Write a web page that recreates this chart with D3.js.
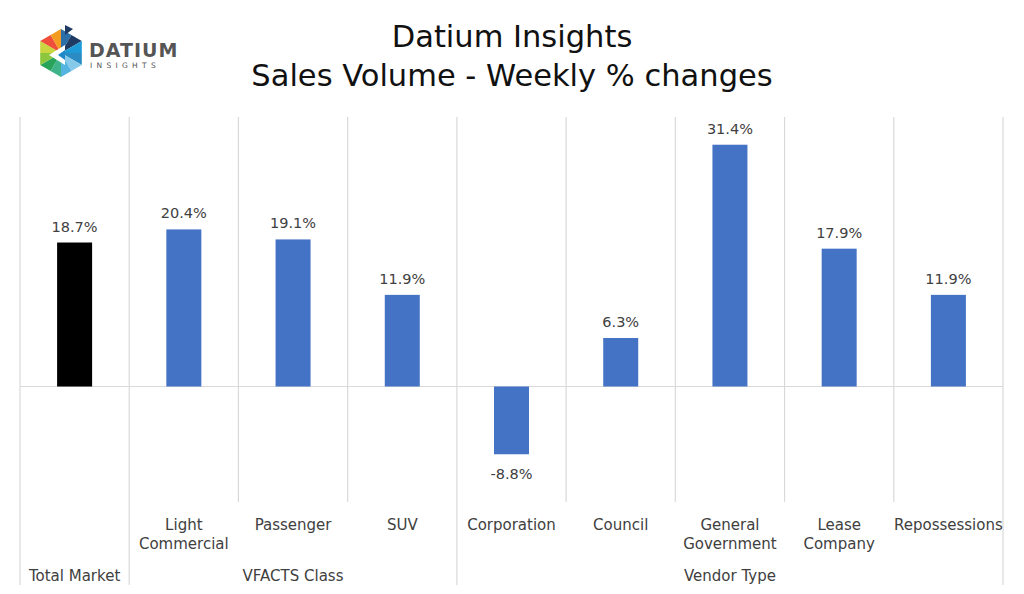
<!DOCTYPE html>
<html><head><meta charset="utf-8">
<script src="https://cdn.jsdelivr.net/npm/d3@7"></script>
<style>body{margin:0;background:#fff}svg{display:block}text{font-family:"DejaVu Sans",sans-serif}</style>
</head><body><svg id="c" width="1024" height="594"></svg>
<script>
const categories = ["Total Market","Light Commercial","Passenger","SUV","Corporation","Council","General Government","Lease Company","Repossessions"];
const categoryLines = [[""],["Light","Commercial"],["Passenger"],["SUV"],["Corporation"],["Council"],["General","Government"],["Lease","Company"],["Repossessions"]];
const values = [18.7,20.4,19.1,11.9,-8.8,6.3,31.4,17.9,11.9];
const groups = ["Total Market","VFACTS Class","Vendor Type"];
const groupSizes = [1,3,5];
const titleLines = ["Datium Insights","Sales Volume - Weekly % changes"];

const svg = d3.select("#c");
const x = d3.scaleBand().domain(categories).range([20,1003]).padding(0);
const y = d3.scaleLinear().domain([-15,35]).range([502,117]);
const bw = 35;
const grid = "#d9d9d9";

// title
svg.selectAll("text.title").data(titleLines).join("text")
  .attr("x",512).attr("y",(d,i)=>47+i*39).attr("text-anchor","middle")
  .attr("font-size",30.5).attr("fill","#111").text(d=>d);

// vertical separators
const groupStarts = [0]; groupSizes.forEach((s,i)=>groupStarts.push(groupStarts[i]+s));
const bounds = d3.range(categories.length+1);
svg.selectAll("line.v").data(bounds).join("line")
  .attr("x1",i=>20+i*x.bandwidth()).attr("x2",i=>20+i*x.bandwidth())
  .attr("y1",117).attr("y2",i=>groupStarts.includes(i)?585:502)
  .attr("stroke",grid).attr("stroke-width",1.2);
// zero line
svg.append("line").attr("x1",20).attr("x2",1003).attr("y1",y(0)).attr("y2",y(0))
  .attr("stroke",grid).attr("stroke-width",1.2);

// bars
svg.selectAll("rect.bar").data(values).join("rect")
  .attr("x",(d,i)=>x(categories[i])+x.bandwidth()/2-bw/2)
  .attr("width",bw)
  .attr("y",d=>y(Math.max(0,d)))
  .attr("height",d=>Math.abs(y(d)-y(0)))
  .attr("fill",(d,i)=>i===0?"#000000":"#4472C4");

// value labels
svg.selectAll("text.val").data(values).join("text")
  .attr("x",(d,i)=>x(categories[i])+x.bandwidth()/2)
  .attr("y",d=>d>=0?y(d)-11:y(d)+25)
  .attr("text-anchor","middle").attr("font-size",14.5).attr("fill","#404040")
  .text(d=>d.toFixed(1)+"%");

// category labels
categoryLines.forEach((lines,i)=>{
  lines.forEach((ln,j)=>{
    svg.append("text").attr("x",x(categories[i])+x.bandwidth()/2).attr("y",530+j*19)
      .attr("text-anchor","middle").attr("font-size",15).attr("fill","#404040").text(ln);
  });
});
// group labels
groups.forEach((g,i)=>{
  const x0 = 20+groupStarts[i]*x.bandwidth(), x1 = 20+groupStarts[i+1]*x.bandwidth();
  svg.append("text").attr("x",(x0+x1)/2).attr("y",581).attr("text-anchor","middle")
    .attr("font-size",15).attr("fill","#404040").text(g);
});

// logo
const logo = svg.append("g").attr("transform","translate(61,53)");
const R = 24;
const pts = d3.range(6).map(k=>{const a=Math.PI/180*(60*k-90);return [R*Math.cos(a),R*Math.sin(a)];});
const triColors = ["#1f3b63","#2b8cc4","#56b4e0","#27a35a","#c9d640","#f39c21"];
const triColors2 = ["#2a6fa8","#1e9bd7","#86c9ea","#3fb38a","#8cc63f","#ef4e3a"];
pts.forEach((p,k)=>{
  const q = pts[(k+1)%6];
  const m = [(p[0]+q[0])/2,(p[1]+q[1])/2];
  logo.append("path").attr("d",`M0,0L${p}L${m}Z`).attr("fill",triColors2[k]);
  logo.append("path").attr("d",`M0,0L${m}L${q}Z`).attr("fill",triColors[k]);
});
logo.append("path").attr("d","M-12,2L4,-8L4,12Z").attr("fill","#fff");
logo.append("path").attr("d","M-3,2L4,-3L4,7Z").attr("fill","#1e88c9");
logo.append("path").attr("d","M4,-28L12,-24L4,-18Z").attr("fill","#1f3b63");
svg.append("text").attr("x",89).attr("y",57).attr("font-size",19).attr("font-weight","bold")
  .attr("fill","#555").attr("letter-spacing",1).text("DATIUM");
svg.append("text").attr("x",90).attr("y",68).attr("font-size",7.5)
  .attr("fill","#555").attr("letter-spacing",4.3).text("INSIGHTS");
</script></body></html>
